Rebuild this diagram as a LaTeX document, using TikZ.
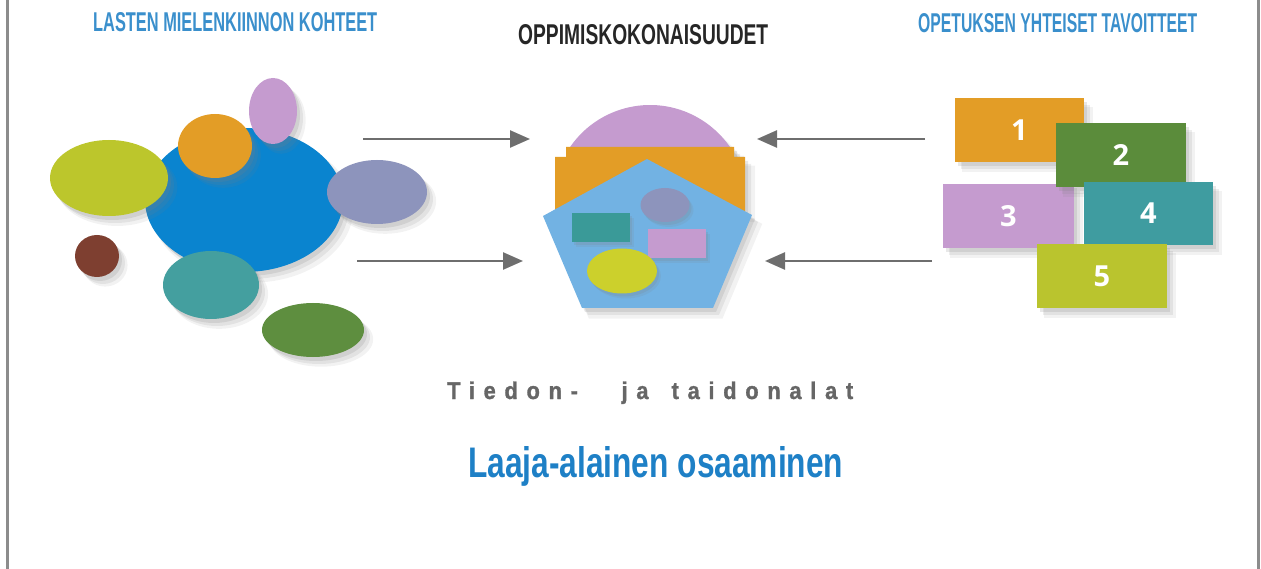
\documentclass[tikz,border=0pt]{standalone}
\usepackage{fontspec}
\setmainfont{Liberation Sans}
\newfontfamily\condfont[FakeStretch=0.72]{Liberation Sans}
\newfontfamily\spacedfont[LetterSpace=34,FakeStretch=0.85,FakeBold=1.2]{Liberation Sans}
\newfontfamily\numfont{Open Sans}
\usetikzlibrary{shapes.geometric,arrows.meta,shadows}
\definecolor{ttlblue}{HTML}{3A8FCC}
\definecolor{laajablue}{HTML}{1E80C6}
\definecolor{bigblue}{HTML}{0A84CF}
\definecolor{limeg}{HTML}{BCC62C}
\definecolor{orng}{HTML}{E39D26}
\definecolor{pnk}{HTML}{C59BCF}
\definecolor{lav}{HTML}{8D94BC}
\definecolor{brwn}{HTML}{7E3F30}
\definecolor{tealc}{HTML}{449F9F}
\definecolor{dgreen}{HTML}{5E8E3F}
\definecolor{pentblue}{HTML}{72B2E3}
\definecolor{yel}{HTML}{CCD02C}
\definecolor{tealr}{HTML}{3A9A98}
\definecolor{boxteal}{HTML}{3F9CA0}
\definecolor{boxlime}{HTML}{BAC42E}
\definecolor{boxgreen}{HTML}{5B8C3B}
\definecolor{arrowgray}{HTML}{6E6E6E}
\definecolor{framegray}{HTML}{8C8C8C}
\definecolor{ttlgray}{HTML}{262626}
\definecolor{subgray}{HTML}{666666}
\tikzset{
  shad/.style={
    drop shadow={opacity=0.10, shadow xshift=8pt, shadow yshift=-9pt, shadow scale=1.02},
    drop shadow={opacity=0.14, shadow xshift=6pt, shadow yshift=-7pt},
    drop shadow={opacity=0.18, shadow xshift=3pt, shadow yshift=-4pt}},
  smallshad/.style={
    drop shadow={opacity=0.12, shadow xshift=4pt, shadow yshift=-5pt},
    drop shadow={opacity=0.18, shadow xshift=2pt, shadow yshift=-3pt}},
  blob/.style={ellipse, inner sep=0pt, draw=none, shad},
  smallblob/.style={ellipse, inner sep=0pt, draw=none, smallshad},
  smallrect/.style={rectangle, inner sep=0pt, draw=none, smallshad},
  numbox/.style={rectangle, inner sep=0pt, draw=none, shad, text=white,
    font=\numfont\bfseries\fontsize{29}{29}\selectfont},
  arr/.style={draw=arrowgray, line width=2.5pt, -{Triangle[length=20pt,width=17pt]}},
  ttl/.style={anchor=base west, inner sep=0pt},
  framel/.style={draw=framegray, line width=2.5pt}
}
\begin{document}
\begin{tikzpicture}[x=1pt,y=-1pt]
\useasboundingbox (0,0) rectangle (1261,569);
% frame
\coordinate (fl1) at (7.5,0); \coordinate (fl2) at (7.5,569);
\coordinate (fr1) at (1258.5,0); \coordinate (fr2) at (1258.5,569);
\draw[framel] (fl1) -- (fl2);
\draw[framel] (fr1) -- (fr2);
% titles
\node[ttl, text=ttlblue] (t1) at (93,32) {\resizebox{284pt}{19pt}{\condfont\bfseries LASTEN MIELENKIINNON KOHTEET}};
\node[ttl, text=ttlgray] (t2) at (518,45) {\resizebox{250pt}{20pt}{\condfont\bfseries OPPIMISKOKONAISUUDET}};
\node[ttl, text=ttlblue] (t3) at (918,33) {\resizebox{279pt}{19pt}{\condfont\bfseries OPETUKSEN YHTEISET TAVOITTEET}};
\node[ttl, text=subgray] (t4) at (447,399) {\resizebox{406pt}{17.5pt}{\spacedfont\bfseries Tiedon-\hspace{1.7em}ja\hspace{0.9em}taidonalat}};
\node[ttl, text=laajablue] (t5) at (468,477) {\resizebox{375pt}{31pt}{\condfont\bfseries Laaja-alainen osaaminen}};
% left cluster
\node[blob, fill=bigblue, minimum width=198pt, minimum height=144pt] (bb) at (244,200) {};
\node[blob, fill=limeg, minimum width=118pt, minimum height=76pt] (lg) at (109,178) {};
\node[blob, fill=orng, minimum width=74pt, minimum height=64pt] (oc) at (215,146) {};
\node[blob, fill=pnk, minimum width=48pt, minimum height=66pt] (pe) at (273,111) {};
\node[blob, fill=lav, minimum width=100pt, minimum height=64pt] (le) at (377,192) {};
\node[blob, fill=brwn, minimum width=44pt, minimum height=42pt] (bc) at (97,256) {};
\node[blob, fill=tealc, minimum width=96pt, minimum height=68pt] (te) at (211,285) {};
\node[blob, fill=dgreen, minimum width=102pt, minimum height=54pt] (ge) at (313,330) {};
% centre shape
\fill[pnk, shad] (650,202) ++(147.6:97pt) arc[start angle=147.6, end angle=32.4, radius=97pt] -- cycle;
\fill[orng, shad] (566,147) -- (734,147) -- (734,157) -- (745,157) -- (745,212) -- (555,212) -- (555,157) -- (566,157) -- cycle;
\fill[pentblue, shad] (647,159) -- (752,215) -- (713,308) -- (582,308) -- (543,216) -- cycle;
\node[smallrect, fill=tealr, minimum width=58pt, minimum height=29pt] (cr1) at (601,227.5) {};
\node[smallblob, fill=lav, minimum width=49pt, minimum height=34pt] (ce1) at (665,205) {};
\node[smallrect, fill=pnk, minimum width=58pt, minimum height=29pt] (cr2) at (677,243.5) {};
\node[smallblob, fill=yel, minimum width=70pt, minimum height=45pt] (ce2) at (622,271) {};
% right boxes
\node[numbox, fill=orng, minimum width=129pt, minimum height=64pt] (r1) at (1019.5,130) {1};
\node[numbox, fill=pnk, minimum width=131pt, minimum height=64pt] (r3) at (1008.5,216) {3};
\node[numbox, fill=boxgreen, minimum width=130pt, minimum height=64pt] (r2) at (1121,155) {2};
\node[numbox, fill=boxteal, minimum width=129pt, minimum height=63pt] (r4) at (1148.5,213.5) {4};
\node[numbox, fill=boxlime, minimum width=130pt, minimum height=64pt] (r5) at (1102,276) {5};
% arrows
\coordinate (a1s) at (363,139); \coordinate (a1e) at (530,139);
\coordinate (a2s) at (357,261); \coordinate (a2e) at (523,261);
\coordinate (a3s) at (925,139); \coordinate (a3e) at (757,139);
\coordinate (a4s) at (932,261); \coordinate (a4e) at (765,261);
\draw[arr] (a1s) -- (a1e);
\draw[arr] (a2s) -- (a2e);
\draw[arr] (a3s) -- (a3e);
\draw[arr] (a4s) -- (a4e);
\end{tikzpicture}
\end{document}
